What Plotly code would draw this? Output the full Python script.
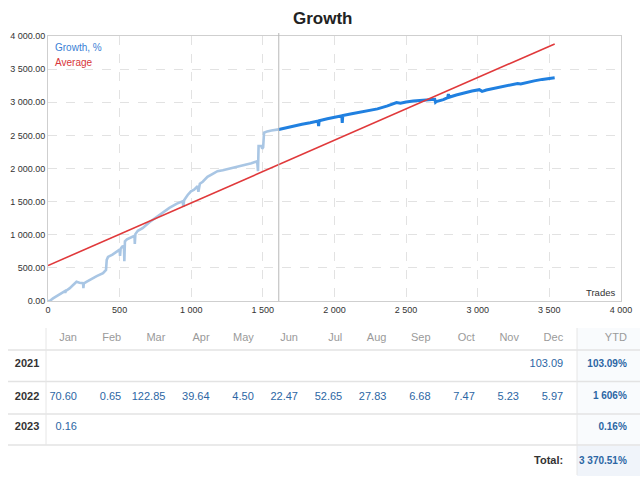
import plotly.graph_objects as go

# ---------------- data ----------------
TRADES = [0, 14, 35, 60, 80, 100, 112, 118, 120, 124, 150, 176, 199, 220, 245, 247, 250, 268, 300, 340,
          384, 405, 410, 419, 450, 480, 500, 503, 507, 518, 530, 533, 537, 551, 580, 604, 606, 610, 627, 660,
          708, 760, 800, 847, 900, 940, 945, 950, 975, 998, 1020, 1044, 1050, 1060, 1080, 1113, 1150, 1183,
          1220, 1250, 1287, 1330, 1380, 1420, 1460, 1466, 1470, 1490, 1495, 1502, 1508, 1530, 1560, 1590,
          1611, 1650, 1700, 1773, 1830, 1885, 1889, 1893, 1950, 2000, 2051, 2054, 2058, 2120, 2180, 2236,
          2300, 2370, 2433, 2460, 2480, 2500, 2550, 2583, 2630, 2680, 2700, 2705, 2710, 2760, 2790, 2795,
          2800, 2850, 2907, 2960, 3011, 3030, 3060, 3110, 3162, 3220, 3278, 3300, 3340, 3394, 3450, 3500, 3537]
GROWTH = [0, 5, 40, 75, 95, 120, 140, 150, 125, 150, 190, 240, 290, 275, 270, 195, 265, 290, 330, 375,
          420, 470, 620, 665, 700, 740, 775, 680, 790, 820, 830, 600, 900, 930, 960, 985, 860, 1010, 1060, 1100,
          1190, 1270, 1330, 1405, 1470, 1505, 1420, 1520, 1600, 1656, 1680, 1732, 1650, 1770, 1800, 1874, 1920, 1960,
          1975, 1990, 2010, 2035, 2060, 2080, 2110, 1960, 2340, 2340, 2300, 2320, 2540, 2560, 2575, 2585,
          2590, 2610, 2630, 2667, 2690, 2715, 2640, 2720, 2750, 2775, 2795, 2690, 2800, 2825, 2850, 2868,
          2900, 2945, 2995, 2985, 2990, 3005, 3020, 3025, 3040, 3045, 3045, 3000, 3010, 3040, 3070, 3125,
          3075, 3110, 3147, 3170, 3190, 3165, 3185, 3210, 3232, 3255, 3283, 3275, 3300, 3323, 3345, 3360, 3370.51]
SPLIT_TRADE = 1611

AVG_TRADES = [0, 3537]
AVG_VALUES = [535, 3880]

X_TICKS = [0, 500, 1000, 1500, 2000, 2500, 3000, 3500, 4000]
Y_TICKS = [0, 500, 1000, 1500, 2000, 2500, 3000, 3500, 4000]

MONTHS = ["Jan", "Feb", "Mar", "Apr", "May", "Jun", "Jul", "Aug", "Sep", "Oct", "Nov", "Dec"]
YEARS = ["2021", "2022", "2023"]
MONTHLY_2021 = [None, None, None, None, None, None, None, None, None, None, None, 103.09]
MONTHLY_2022 = [70.60, 0.65, 122.85, 39.64, 4.50, 22.47, 52.65, 27.83, 6.68, 7.47, 5.23, 5.97]
MONTHLY_2023 = [0.16, None, None, None, None, None, None, None, None, None, None, None]
YTD_LABELS = ["103.09%", "1 606%", "0.16%"]
TOTAL_LABEL = "3 370.51%"

# ---------------- layout helpers ----------------
W, H = 640, 480
FONT = "Liberation Sans, Arial, sans-serif"
TABLE_SIZE = 11
YTD_SIZE = 10


def px(x):
    return x / W


def py(y):
    return 1 - y / H


light_x = [t for t in TRADES if t <= SPLIT_TRADE]
light_y = [g for t, g in zip(TRADES, GROWTH) if t <= SPLIT_TRADE]
dark_x = [t for t in TRADES if t >= SPLIT_TRADE]
dark_y = [g for t, g in zip(TRADES, GROWTH) if t >= SPLIT_TRADE]

fig = go.Figure()
fig.add_trace(go.Scatter(x=light_x, y=light_y, mode="lines",
                         line=dict(color="#a9c6e4", width=2.6), hoverinfo="skip", showlegend=False))
fig.add_trace(go.Scatter(x=dark_x, y=dark_y, mode="lines",
                         line=dict(color="#2080e0", width=3), hoverinfo="skip", showlegend=False))
fig.add_trace(go.Scatter(x=AVG_TRADES, y=AVG_VALUES, mode="lines",
                         line=dict(color="#e0393b", width=1.6), hoverinfo="skip", showlegend=False))

# ---------------- table (second axes) ----------------
ROW_POS = [0, 0.85, 1.9, 2.9, 4]   # header, 2021, 2022, 2023, total
COL_YTD = 13.44
COL_YEAR = -0.13
VAL_COLOR = "#2c66a4"

# header
fig.add_trace(go.Scatter(x=list(range(1, 13)) + [COL_YTD], y=[ROW_POS[0]] * 13,
                         text=MONTHS + ["YTD"], mode="text", textposition="middle left",
                         textfont=dict(family=FONT, size=TABLE_SIZE, color="#9a9a9a"),
                         xaxis="x2", yaxis="y2", hoverinfo="skip", showlegend=False, cliponaxis=False))
# year labels
fig.add_trace(go.Scatter(x=[COL_YEAR] * 3, y=ROW_POS[1:4], text=[f"<b>{y}</b>" for y in YEARS],
                         mode="text", textposition="middle center",
                         textfont=dict(family=FONT, size=TABLE_SIZE, color="#333333"),
                         xaxis="x2", yaxis="y2", hoverinfo="skip", showlegend=False, cliponaxis=False))
# monthly values
for row, vals in zip(ROW_POS[1:4], [MONTHLY_2021, MONTHLY_2022, MONTHLY_2023]):
    xs = [i + 1 for i, v in enumerate(vals) if v is not None]
    ts = [f"{v:.2f}" for v in vals if v is not None]
    fig.add_trace(go.Scatter(x=xs, y=[row] * len(xs), text=ts, mode="text", textposition="middle left",
                             textfont=dict(family=FONT, size=TABLE_SIZE, color=VAL_COLOR),
                             xaxis="x2", yaxis="y2", hoverinfo="skip", showlegend=False, cliponaxis=False))
# YTD values + total
fig.add_trace(go.Scatter(x=[COL_YTD] * 4, y=ROW_POS[1:5],
                         text=[f"<b>{t}</b>" for t in YTD_LABELS + [TOTAL_LABEL]],
                         mode="text", textposition="middle left",
                         textfont=dict(family=FONT, size=YTD_SIZE, color=VAL_COLOR),
                         xaxis="x2", yaxis="y2", hoverinfo="skip", showlegend=False, cliponaxis=False))
fig.add_trace(go.Scatter(x=[12], y=[ROW_POS[4]], text=["<b>Total:</b>"], mode="text",
                         textposition="middle left",
                         textfont=dict(family=FONT, size=TABLE_SIZE, color="#333333"),
                         xaxis="x2", yaxis="y2", hoverinfo="skip", showlegend=False, cliponaxis=False))

shapes = []
# YTD column tint
shapes.append(dict(type="rect", xref="paper", yref="paper", x0=px(577), x1=px(640), y0=py(475), y1=py(328),
                   fillcolor="#f9fbfd", line=dict(width=0), layer="below"))
shapes.append(dict(type="rect", xref="paper", yref="paper", x0=px(577), x1=px(640), y0=py(476), y1=py(446),
                   fillcolor="#f0f4fa", line=dict(width=0), layer="below"))
for yy in [350, 381.5, 414, 445]:
    shapes.append(dict(type="line", xref="paper", yref="paper", x0=px(8), x1=px(640), y0=py(yy), y1=py(yy),
                       line=dict(color="#e3e3e3", width=1.5)))
shapes.append(dict(type="line", xref="paper", yref="paper", x0=px(46), x1=px(46), y0=py(328), y1=py(445),
                   line=dict(color="#e6e6e6", width=1)))
shapes.append(dict(type="line", xref="paper", yref="paper", x0=px(577), x1=px(577), y0=py(328), y1=py(475),
                   line=dict(color="#e6e6e6", width=1)))
# split line in the chart
shapes.append(dict(type="line", xref="x", yref="paper", x0=SPLIT_TRADE, x1=SPLIT_TRADE, y0=py(301), y1=py(33),
                   line=dict(color="#b8b8b8", width=1)))

annotations = [
    dict(text="Growth, %", xref="paper", yref="paper", x=px(53), y=py(48), xanchor="left", yanchor="middle",
         showarrow=False, font=dict(family=FONT, size=10, color="#3a7fd5")),
    dict(text="Average", xref="paper", yref="paper", x=px(53), y=py(63), xanchor="left", yanchor="middle",
         showarrow=False, font=dict(family=FONT, size=10, color="#d8363a")),
    dict(text="Trades", xref="paper", yref="paper", x=px(617), y=py(292), xanchor="right", yanchor="middle",
         showarrow=False, font=dict(family=FONT, size=9.5, color="#333333")),
    dict(text="<b>Growth</b>", xref="paper", yref="paper", x=px(323), y=py(19), xanchor="center",
         yanchor="middle", showarrow=False, font=dict(family=FONT, size=17, color="#222222")),
]

fig.update_layout(
    width=W, height=H,
    margin=dict(l=0, r=0, t=0, b=0, autoexpand=False),
    paper_bgcolor="white", plot_bgcolor="white",
    separators=". ",
    xaxis=dict(domain=[px(48), px(621)], range=[0, 4000], tickvals=X_TICKS, tickformat=",d",
               showgrid=True, gridcolor="#e2e2e2", griddash="dash", zeroline=False,
               showline=True, mirror=True, linecolor="#cfcfcf", linewidth=1, automargin=False,
               ticks="", tickfont=dict(family=FONT, size=9, color="#333333")),
    yaxis=dict(domain=[py(301), py(36)], range=[0, 4000], tickvals=Y_TICKS, tickformat=",.2f",
               showgrid=True, gridcolor="#e2e2e2", griddash="dash", zeroline=False,
               showline=True, mirror=True, linecolor="#cfcfcf", linewidth=1, automargin=False,
               ticks="", tickfont=dict(family=FONT, size=9, color="#333333")),
    xaxis2=dict(domain=[0, 1], range=[-0.742, 13.738], visible=False, anchor="y2"),
    yaxis2=dict(domain=[0, py(320)], range=[4.6, -0.6], visible=False, anchor="x2"),
    shapes=shapes,
    annotations=annotations,
)

fig.write_html("out.html", config={"displayModeBar": False},
               post_script="document.body.style.margin='0';document.body.style.overflow='hidden';")
